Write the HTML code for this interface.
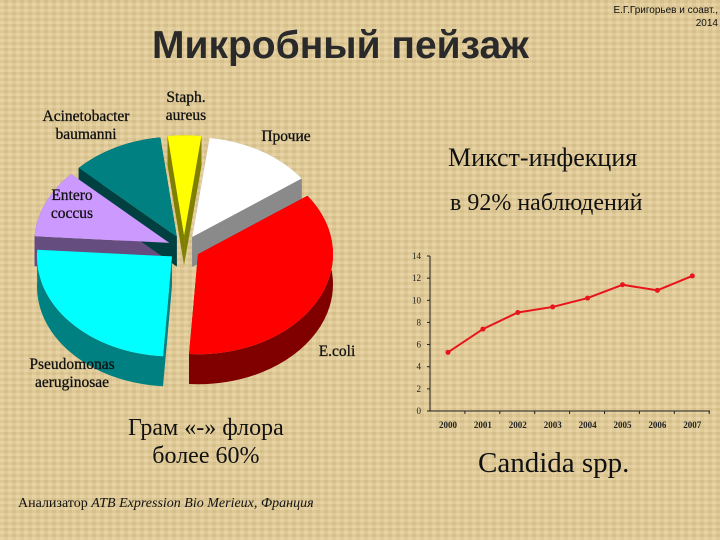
<!DOCTYPE html>
<html><head><meta charset="utf-8"><style>
body{margin:0}
#slide{position:relative;width:720px;height:540px;overflow:hidden;background:#e3cb94;background-image:repeating-linear-gradient(0deg,rgba(255,255,255,0.08) 0 3px,rgba(0,0,0,0.03) 3px 6px),repeating-linear-gradient(90deg,rgba(255,255,255,0.07) 0 4px,rgba(0,0,0,0.03) 4px 8px);font-family:"Liberation Serif",serif;color:#111}
.t{position:absolute;white-space:nowrap}
</style></head><body>
<div id="slide">
<div class="t" style="left:152px;top:24px;font-family:'Liberation Sans',sans-serif;font-size:39px;font-weight:bold;color:#2a2a2a">Микробный пейзаж</div>
<div class="t" style="right:2px;top:4px;font-family:'Liberation Sans',sans-serif;font-size:10px;text-align:right;line-height:13px">Е.Г.Григорьев и соавт.,<br>2014</div>
<div class="t" style="left:448px;top:143px;font-size:26px">Микст-инфекция</div>
<div class="t" style="left:450px;top:190px;font-size:24px">в 92% наблюдений</div>
<div class="t" style="left:128px;top:414px;font-size:24px;text-align:center;line-height:28px">Грам «-» флора<br>более 60%</div>
<div class="t" style="left:478px;top:447px;font-size:29px">Candida spp.</div>
<div class="t" style="left:18px;top:496px;font-size:14px">Анализатор <i>ATB Expression Bio Merieux, Франция</i></div>
<svg id="pie" width="720" height="540" style="position:absolute;left:0;top:0"></svg>
<svg id="line" width="720" height="540" style="position:absolute;left:0;top:0"></svg>
</div>
<script>
const pieLabels=["Staph. aureus","Прочие","E.coli","Pseudomonas aeruginosae","Entero coccus","Acinetobacter baumanni"];
const pieValues=[4,13,36,25,11,11];
const years=["2000","2001","2002","2003","2004","2005","2006","2007"];
const lineValues=[5.3,7.4,8.9,9.4,10.2,11.4,10.9,12.2];
const yTicks=[0,2,4,6,8,10,12,14];

const NS="http://www.w3.org/2000/svg";
function mk(parent,tag,attrs){const e=document.createElementNS(NS,tag);for(const k in attrs)e.setAttribute(k,attrs[k]);parent.appendChild(e);return e;}

// Pie
const pie=document.getElementById('pie');
const tops=["#ffff00","#ffffff","#ff0000","#00ffff","#cc99ff","#008080"];
const sides=["#808000","#8a8a8a","#800000","#008080","#664d80","#004040"];
const cx=184,cy=248,rx=135,ry=100,depth=30,startDeg=-7,expl=16;
const total=pieValues.reduce((a,b)=>a+b,0);
function pt(c,a,dy){return [c[0]+rx*Math.sin(a),c[1]-ry*Math.cos(a)+(dy||0)];}
let acc=0;const slices=[];
pieValues.forEach((v,i)=>{const a1=(startDeg+acc/total*360)*Math.PI/180;acc+=v;const a2=(startDeg+acc/total*360)*Math.PI/180;const m=(a1+a2)/2;const c=[cx+expl*Math.sin(m),cy-expl*0.8*Math.cos(m)];slices.push({a1,a2,c,i});});
const sideG=mk(pie,'g',{});const topG=mk(pie,'g',{});
slices.forEach(s=>{
 const p1=pt(s.c,s.a1),p2=pt(s.c,s.a2),large=(s.a2-s.a1)>Math.PI?1:0;
 const d=depth;
 let w=mk(sideG,'path',{d:`M${s.c[0]},${s.c[1]}L${p1[0]},${p1[1]}L${p1[0]},${p1[1]+d}L${s.c[0]},${s.c[1]+d}Z`,fill:sides[s.i]});
 
 w=mk(sideG,'path',{d:`M${s.c[0]},${s.c[1]}L${p2[0]},${p2[1]}L${p2[0]},${p2[1]+d}L${s.c[0]},${s.c[1]+d}Z`,fill:sides[s.i]});
 
 w=mk(sideG,'path',{d:`M${p1[0]},${p1[1]}A${rx},${ry} 0 ${large} 1 ${p2[0]},${p2[1]}L${p2[0]},${p2[1]+d}A${rx},${ry} 0 ${large} 0 ${p1[0]},${p1[1]+d}Z`,fill:sides[s.i]});
 
 const t=mk(topG,'path',{d:`M${s.c[0]},${s.c[1]}L${p1[0]},${p1[1]}A${rx},${ry} 0 ${large} 1 ${p2[0]},${p2[1]}Z`,fill:tops[s.i]});
 
 
});
const labelPos=[[186,102,"Staph.","aureus"],[286,141,"Прочие",""],[337,356,"E.coli",""],[72,369,"Pseudomonas","aeruginosae"],[72,200,"Entero","coccus"],[86,121,"Acinetobacter","baumanni"]];
labelPos.forEach((l,i)=>{const tx=mk(pie,'text',{x:l[0],y:l[1],'font-size':15.5,'font-family':'Liberation Serif, serif','text-anchor':'middle',fill:'#111',stroke:'#111','stroke-width':0.3});
 
 const a=mk(tx,'tspan',{x:l[0],dy:0});a.textContent=l[2];
 if(l[3]){const b=mk(tx,'tspan',{x:l[0],dy:18});b.textContent=l[3];}});

// Line chart
const L=document.getElementById('line');
const x0=430,x1=710,yB=411,yT=256,firstX=448,stepX=34.9;
const ys=v=>yB-(v-0)/(14-0)*(yB-yT);
const xs=i=>firstX+i*stepX;
let ax=mk(L,'line',{x1:x0,y1:yT,x2:x0,y2:yB,stroke:'#222','stroke-width':1});

ax=mk(L,'line',{x1:x0,y1:yB,x2:x1,y2:yB,stroke:'#222','stroke-width':1});

yTicks.forEach(v=>{const y=ys(v);mk(L,'line',{x1:x0-3,y1:y,x2:x0,y2:y,stroke:'#222'});
 const t=mk(L,'text',{x:x0-9,y:y+3,'font-size':9,'text-anchor':'end','font-family':'Liberation Serif, serif',fill:'#222'});t.textContent=v;
 });
years.forEach((yr,i)=>{const bx=x0+(i+1)*stepX;mk(L,'line',{x1:bx,y1:yB,x2:bx,y2:yB+3,stroke:'#222'});
 const t=mk(L,'text',{x:xs(i),y:yB+17,'font-size':9,'font-weight':'bold','text-anchor':'middle','font-family':'Liberation Serif, serif',fill:'#222'});t.textContent=yr;
 });
const ln=mk(L,'polyline',{points:lineValues.map((v,i)=>xs(i)+','+ys(v)).join(' '),fill:'none',stroke:'#e8141c','stroke-width':2});

lineValues.forEach((v,i)=>{const c=mk(L,'circle',{cx:xs(i),cy:ys(v),r:2.5,fill:'#e8141c'});
 });
</script>
</body></html>
